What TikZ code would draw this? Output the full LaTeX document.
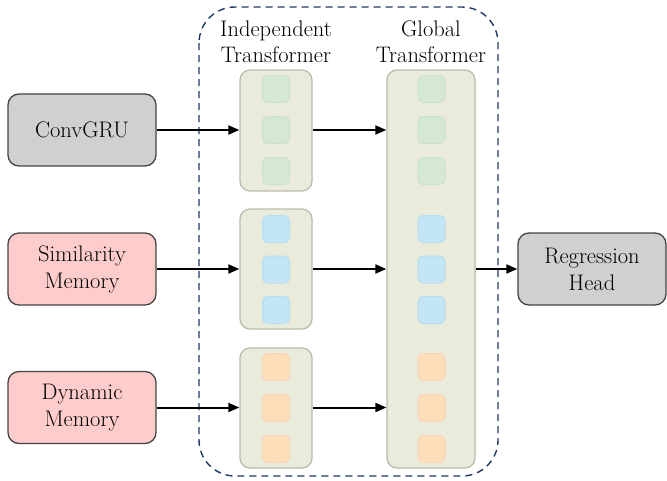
\documentclass[tikz,border=0pt]{standalone}
\usetikzlibrary{arrows.meta}
\definecolor{tbfill}{HTML}{EBEBDC}
\definecolor{tbdraw}{HTML}{BBBBAA}
\definecolor{sqgreen}{HTML}{D5E8D4}
\definecolor{sqgreenb}{HTML}{CCE3CA}
\definecolor{sqblue}{HTML}{C3E5F5}
\definecolor{sqblueb}{HTML}{B5DFF2}
\definecolor{sqorange}{HTML}{FCDFB8}
\definecolor{sqorangeb}{HTML}{F9D4BC}
\definecolor{graybox}{HTML}{D0D0D0}
\definecolor{pinkbox}{HTML}{FFCCCC}
\definecolor{boxline}{HTML}{444444}
\definecolor{navy}{HTML}{1F3864}
\begin{document}
\begin{tikzpicture}[x=1pt,y=-1pt,
  inbox/.style={draw=boxline,line width=1.3pt,rounded corners=11pt,minimum width=148pt,minimum height=72pt,align=center,font=\fontsize{22.5}{27}\selectfont,inner sep=0pt},
  tbox/.style={draw=tbdraw,fill=tbfill,line width=1.3pt,rounded corners=10pt,inner sep=0pt},
  sq/.style={rounded corners=5pt,line width=1pt,minimum width=27pt,minimum height=27pt,inner sep=0pt},
  gsq/.style={sq,fill=sqgreen,draw=sqgreenb},
  bsq/.style={sq,fill=sqblue,draw=sqblueb},
  osq/.style={sq,fill=sqorange,draw=sqorangeb},
  lbl/.style={align=center,font=\fontsize{22.5}{26}\selectfont,inner sep=0pt},
  arr/.style={-{Triangle[length=11pt,width=9pt]},line width=2pt,black}
]
\useasboundingbox (0,0) rectangle (667,480);
% dashed container
\draw[navy,line width=1.4pt,dash pattern=on 7pt off 5pt,rounded corners=36pt] (199,7) rectangle (498,476);
% input boxes
\node[inbox,fill=graybox] (conv) at (82,130) {ConvGRU};
\node[inbox,fill=pinkbox] (sim) at (82,269) {Similarity\\Memory};
\node[inbox,fill=pinkbox] (dyn) at (82,407.5) {Dynamic\\Memory};
\node[inbox,fill=graybox] (reg) at (592,269) {Regression\\Head};
% labels
\node[lbl] (il) at (276,42) {Independent\\Transformer};
\node[lbl] (gl) at (431,42) {Global\\Transformer};
% independent transformers
\node[tbox,minimum width=72pt,minimum height=121pt] (i1) at (276,130.5) {};
\node[tbox,minimum width=72pt,minimum height=120pt] (i2) at (276,269) {};
\node[tbox,minimum width=72pt,minimum height=120pt] (i3) at (276,408) {};
% global transformer
\node[tbox,minimum width=88pt,minimum height=398pt] (g) at (431,269) {};
% squares
\foreach \y [count=\i] in {89,130,171} {
  \node[gsq] (ia\i) at (276,\y) {};
  \node[gsq] (ga\i) at (431.5,\y) {};
}
\foreach \y [count=\i] in {229,269.5,310} {
  \node[bsq] (ib\i) at (276,\y) {};
  \node[bsq] (gb\i) at (431.5,\y) {};
}
\foreach \y [count=\i] in {367,408,449} {
  \node[osq] (ic\i) at (276,\y) {};
  \node[osq] (gc\i) at (431.5,\y) {};
}
% arrows
\draw[arr] (conv.east) -- (i1.west |- conv.east);
\draw[arr] (sim.east) -- (i2.west |- sim.east);
\draw[arr] (dyn.east) -- (i3.west |- dyn.east);
\draw[arr] (i1.east |- conv.east) -- (g.west |- conv.east);
\draw[arr] (i2.east |- sim.east) -- (g.west |- sim.east);
\draw[arr] (i3.east |- dyn.east) -- (g.west |- dyn.east);
\draw[arr] (g.east |- reg.west) -- (reg.west);
\end{tikzpicture}
\end{document}
